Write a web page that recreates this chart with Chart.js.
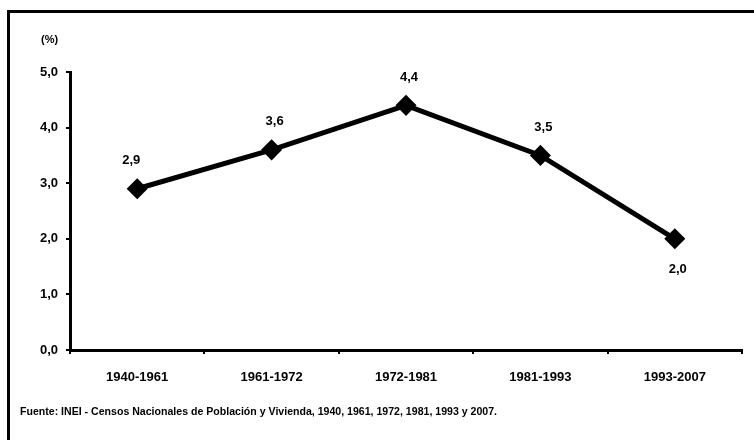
<!DOCTYPE html>
<html>
<head>
<meta charset="utf-8">
<script src="https://cdn.jsdelivr.net/npm/chart.js@4/dist/chart.umd.min.js"></script>
<style>
html,body{margin:0;padding:0;background:#fff;}
#wrap{width:754px;height:440px;position:relative;}
</style>
</head>
<body>
<div id="wrap"><canvas id="c" width="754" height="440"></canvas></div>
<script>
const categories = ['1940-1961','1961-1972','1972-1981','1981-1993','1993-2007'];
const values = [2.9, 3.6, 4.4, 3.5, 2.0];
const yTicks = [0,1,2,3,4,5];
const unitLabel = '(%)';
const sourceText = 'Fuente: INEI - Censos Nacionales de Población y Vivienda, 1940, 1961, 1972, 1981, 1993 y 2007.';

const fmt = v => v.toFixed(1).replace('.', ',');
const FONT = 'Arial, "Liberation Sans", sans-serif';

const decor = {
  id: 'decor',
  beforeDraw(chart) {
    const ctx = chart.ctx;
    ctx.save();
    ctx.fillStyle = '#fff';
    ctx.fillRect(0, 0, chart.width, chart.height);
    ctx.fillStyle = '#000';
    ctx.fillRect(7, 10, chart.width - 7, 3);
    ctx.fillRect(7, 10, 3, chart.height - 10);
    ctx.restore();
  },
  afterDraw(chart) {
    const ctx = chart.ctx;
    ctx.save();
    ctx.fillStyle = '#000';
    ctx.font = 'bold 11px ' + FONT;
    ctx.textAlign = 'left';
    ctx.textBaseline = 'middle';
    ctx.fillText(unitLabel, 41, 40);
    ctx.font = 'bold 10px ' + FONT;
    const w = ctx.measureText(sourceText).width;
    const target = 477;
    ctx.translate(20, 412);
    ctx.scale(target / w, 1);
    ctx.fillText(sourceText, 0, 0);
    ctx.restore();
    ctx.save();
    ctx.fillStyle = '#000';
    ctx.font = 'bold 13px ' + FONT;
    ctx.textAlign = 'center';
    ctx.textBaseline = 'middle';
    const meta = chart.getDatasetMeta(0);
    meta.data.forEach((pt, i) => {
      const below = i === values.length - 1;
      ctx.fillText(fmt(values[i]), pt.x + (i === 0 ? -6 : 3), pt.y + (below ? 31 : -28));
    });
    ctx.restore();
  }
};

new Chart(document.getElementById('c'), {
  type: 'line',
  data: {
    labels: categories,
    datasets: [{
      data: values,
      borderColor: '#000',
      backgroundColor: '#000',
      borderWidth: 5,
      pointStyle: 'rectRot',
      pointRadius: 7,
      pointHoverRadius: 7,
      pointBackgroundColor: '#000',
      pointBorderColor: '#000',
      tension: 0
    }]
  },
  options: {
    responsive: false,
    animation: false,
    devicePixelRatio: 1,
    layout: { padding: { left: 0, right: 11, top: 72, bottom: 0 } },
    plugins: { legend: { display: false }, tooltip: { enabled: false } },
    scales: {
      x: {
        type: 'category',
        offset: true,
        grid: { display: true, drawOnChartArea: false, offset: true, tickLength: 4, tickColor: '#000', lineWidth: 2 },
        border: { display: true, color: '#000', width: 3 },
        ticks: { color: '#000', font: { family: FONT, size: 13, weight: 'bold' }, padding: 16, maxRotation: 0 },
        afterFit(s) { s.height = 90; }
      },
      y: {
        min: 0, max: 5,
        afterBuildTicks(s) { s.ticks = yTicks.map(v => ({ value: v })); },
        grid: { display: true, drawOnChartArea: false, tickLength: 4, tickColor: '#000', lineWidth: 2 },
        border: { display: true, color: '#000', width: 3 },
        ticks: { color: '#000', font: { family: FONT, size: 13, weight: 'bold' }, padding: 8, callback: v => fmt(v) },
        afterFit(s) { s.width = 70; }
      }
    }
  },
  plugins: [decor]
});
</script>
</body>
</html>
